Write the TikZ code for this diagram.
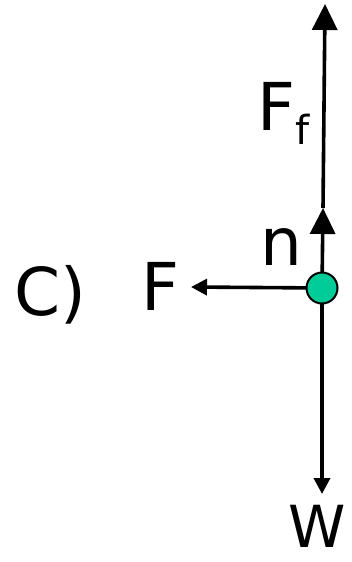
\documentclass[tikz,border=0pt]{standalone}
\usepackage{fontspec}
\setmainfont{DejaVu Sans}
\usetikzlibrary{arrows.meta}
\definecolor{dotgreen}{RGB}{0,204,153}
\begin{document}
\begin{tikzpicture}[x=1pt,y=-1pt]
\tikzstyle{every node}=[font=\fontsize{66}{70}\selectfont,inner sep=0pt]
\tikzstyle{bigforce}=[line width=3.6pt,-{Triangle[length=26pt,width=25pt]}]
\tikzstyle{smallforce}=[line width=3.6pt,-{Triangle[length=16pt,width=16pt]}]
\useasboundingbox (0,0) rectangle (352,562);
\coordinate (c) at (322,288);
\coordinate (ntip) at (323,208);
\coordinate (fftip) at (325,4);
\coordinate (wtip) at (322,494);
\coordinate (ftip) at (191,287);
\draw[bigforce] (c) -- (ntip);
\draw[bigforce] (ntip) -- (fftip);
\draw[smallforce] (c) -- (wtip);
\draw[smallforce] (c) -- (ftip);
\node[circle,draw,line width=2pt,fill=dotgreen,minimum size=31pt] (p) at (c) {};
% labels
\node[anchor=base] (lc) at (50,315) {C)};
\node[anchor=base] (lf) at (160,310) {F};
\node[anchor=base] (ln) at (281,265) {n};
\node[anchor=base] (lff) at (284,130) {F\raisebox{-14pt}{\fontsize{40}{44}\selectfont f}};
\node[anchor=base east] (lw) at (346,547) {\fontsize{58}{62}\selectfont W};
\end{tikzpicture}
\end{document}
